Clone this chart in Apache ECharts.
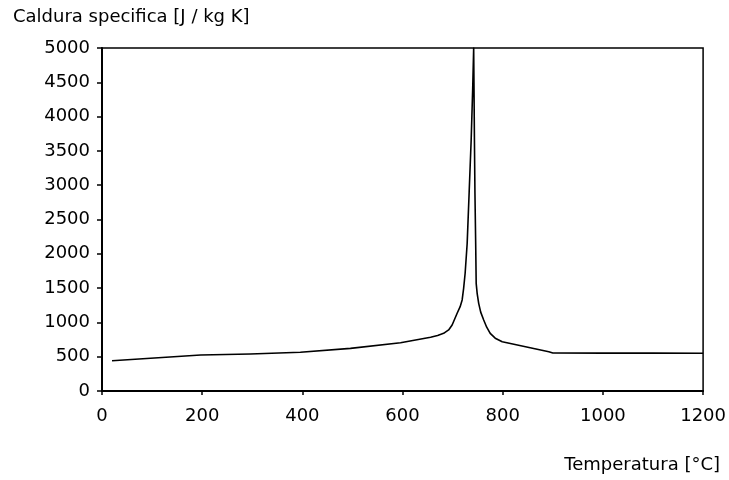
<!DOCTYPE html>
<html>
<head>
<meta charset="utf-8">
<script src="https://cdn.jsdelivr.net/npm/echarts@6/dist/echarts.min.js"></script>
<style>
html,body{margin:0;padding:0;background:#fff;}
#chart{width:729px;height:480px;}
</style>
</head>
<body>
<div id="chart"></div>
<script>
// Temperature [°C]
var temperatures = [20, 97, 197, 296, 396, 496, 596, 656, 670, 682, 692, 699, 709, 715, 719, 722, 725, 729, 733, 737, 740, 742, 743.5, 744.5, 746, 747, 749, 752, 756, 762, 768, 775, 785, 799, 892, 900, 1000, 1100, 1200];
// Specific heat [J / kg K]
var specificHeat = [442, 477, 525, 539, 564, 622, 704, 783, 810, 841, 890, 962, 1133, 1229, 1327, 1500, 1720, 2150, 2900, 3660, 4400, 5000, 3660, 2900, 2150, 1570, 1420, 1278, 1150, 1035, 930, 841, 770, 719, 573, 555, 552, 552, 550];
var xTicks = {min: 0, max: 1200, step: 200};
var yTicks = {min: 0, max: 5000, step: 500};
var yTitle = 'Caldura specifica [J / kg K]';
var xTitle = 'Temperatura [°C]';

var chart = echarts.init(document.getElementById('chart'), null, {renderer: 'canvas'});
var font = 'DejaVu Sans';
var points = temperatures.map(function (t, i) { return [t, specificHeat[i]]; });
function plain(v) { return String(v); }

chart.setOption({
  animation: false,
  backgroundColor: '#fff',
  grid: {
    left: 102, right: 25, top: 48, bottom: 89,
    show: true, borderColor: '#000', borderWidth: 1.5, backgroundColor: 'transparent'
  },
  xAxis: {
    type: 'value',
    min: xTicks.min, max: xTicks.max, interval: xTicks.step,
    axisLine: {show: true, onZero: false, lineStyle: {color: '#000', width: 2}},
    axisTick: {show: true, length: 4, lineStyle: {color: '#000', width: 1.5}},
    splitLine: {show: false},
    axisLabel: {color: '#000', fontFamily: font, fontSize: 18, margin: 16, formatter: plain}
  },
  yAxis: {
    type: 'value',
    min: yTicks.min, max: yTicks.max, interval: yTicks.step,
    axisLine: {show: true, onZero: false, lineStyle: {color: '#000', width: 2}},
    axisTick: {show: true, length: 5, lineStyle: {color: '#000', width: 1.5}},
    splitLine: {show: false},
    axisLabel: {color: '#000', fontFamily: font, fontSize: 18, margin: 12, formatter: plain}
  },
  graphic: [
    {type: 'text', left: 13, top: 8, style: {text: yTitle, fill: '#000', font: '18px "DejaVu Sans"'}},
    {type: 'text', right: 9, top: 456, style: {text: xTitle, fill: '#000', font: '18px "DejaVu Sans"'}}
  ],
  series: [{
    type: 'line',
    data: points,
    smooth: false,
    showSymbol: false,
    clip: true,
    lineStyle: {color: '#000', width: 1.6, join: 'round'}
  }]
});
</script>
</body>
</html>
